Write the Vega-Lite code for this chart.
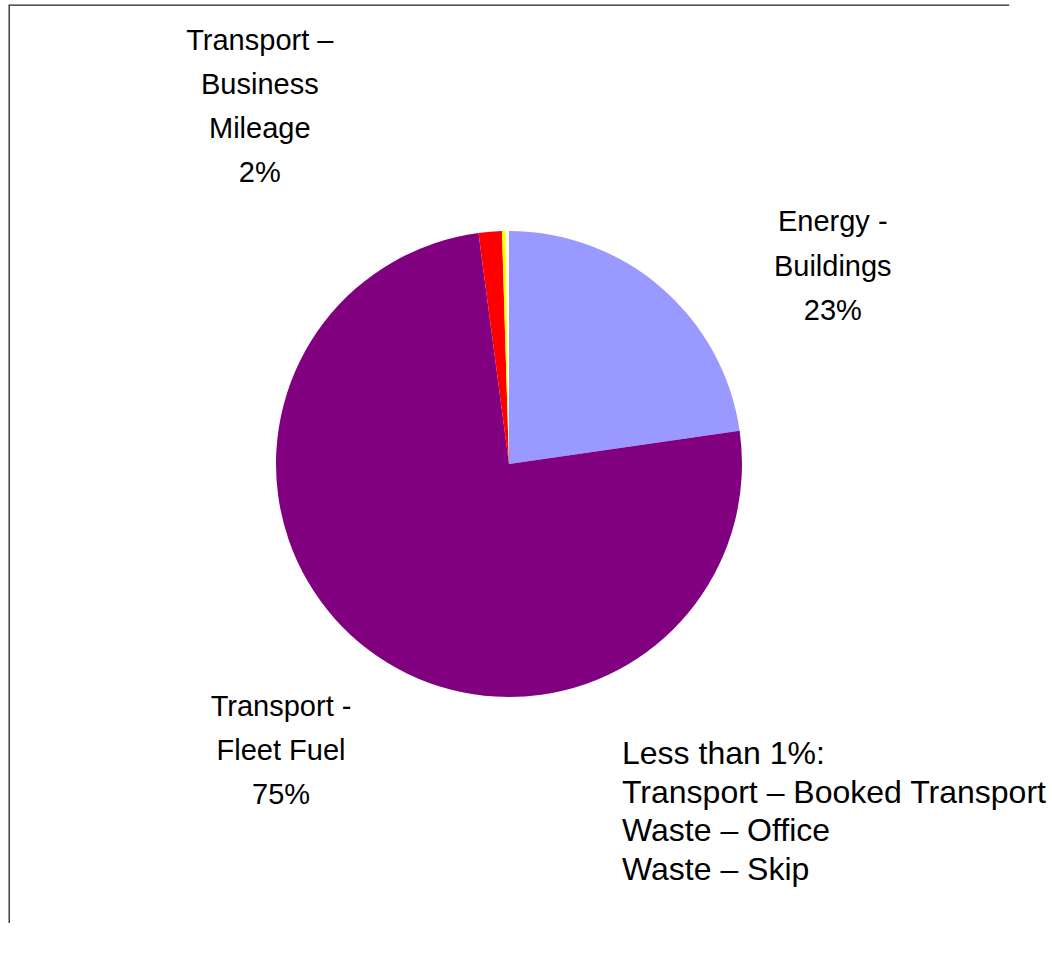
{
  "$schema": "https://vega.github.io/schema/vega-lite/v6.json",
  "width": 1000,
  "height": 918,
  "padding": {"left": 9, "top": 5, "right": 0, "bottom": 0},
  "background": "#ffffff",
  "view": {"stroke": "#222222", "strokeWidth": 1.3, "strokeDash": [1000, 1918, 918], "fill": null},
  "config": {
    "text": {"font": "Liberation Sans", "color": "#000000"}
  },
  "data": {
    "values": [
      {"category": "Energy - Buildings", "share": 22.72, "rank": 1, "label": "Energy -\nBuildings\n23%"},
      {"category": "Transport - Fleet Fuel", "share": 75.19, "rank": 2, "label": "Transport -\nFleet Fuel\n75%"},
      {"category": "Transport – Business Mileage", "share": 1.61, "rank": 3, "label": "Transport –\nBusiness\nMileage\n2%"},
      {"category": "Transport – Booked Transport", "share": 0.24, "rank": 4, "label": ""},
      {"category": "Waste – Office", "share": 0.07, "rank": 5, "label": ""},
      {"category": "Waste – Skip", "share": 0.17, "rank": 6, "label": ""}
    ]
  },
  "encoding": {
    "theta": {"field": "share", "type": "quantitative", "stack": true},
    "order": {"field": "rank", "type": "quantitative"}
  },
  "layer": [
    {
      "mark": {"type": "arc", "outerRadius": 233, "stroke": null},
      "encoding": {
        "color": {
          "field": "category",
          "type": "nominal",
          "legend": null,
          "scale": {
            "domain": ["Energy - Buildings", "Transport - Fleet Fuel", "Transport – Business Mileage", "Transport – Booked Transport", "Waste – Office", "Waste – Skip"],
            "range": ["#9999FF", "#800080", "#FF0000", "#FFFF00", "#FFFFCC", "#FFFFFF"]
          }
        }
      }
    },
    {
      "mark": {"type": "text", "radius": 380, "dx": 75, "dy": 45.5, "align": "center", "baseline": "middle", "fontSize": 29, "lineHeight": 44.5, "lineBreak": "\n"},
      "encoding": {
        "text": {"condition": {"test": "datum.rank === 1", "field": "label"}, "value": ""}
      }
    },
    {
      "mark": {"type": "text", "radius": 366, "dx": -7, "dy": -49, "align": "center", "baseline": "middle", "fontSize": 29, "lineHeight": 44, "lineBreak": "\n"},
      "encoding": {
        "text": {"condition": {"test": "datum.rank === 2", "field": "label"}, "value": ""}
      }
    },
    {
      "mark": {"type": "text", "radius": 300, "dx": -225, "dy": -124, "align": "center", "baseline": "middle", "fontSize": 29, "lineHeight": 44, "lineBreak": "\n"},
      "encoding": {
        "text": {"condition": {"test": "datum.rank === 3", "field": "label"}, "value": ""}
      }
    },
    {
      "data": {"values": [{"note": "Less than 1%:\nTransport – Booked Transport\nWaste – Office\nWaste – Skip"}]},
      "mark": {"type": "text", "dx": 113, "dy": 290, "align": "left", "baseline": "middle", "fontSize": 32, "lineHeight": 38.7, "lineBreak": "\n"},
      "encoding": {
        "theta": null,
        "order": null,
        "text": {"field": "note", "type": "nominal"}
      }
    }
  ]
}
